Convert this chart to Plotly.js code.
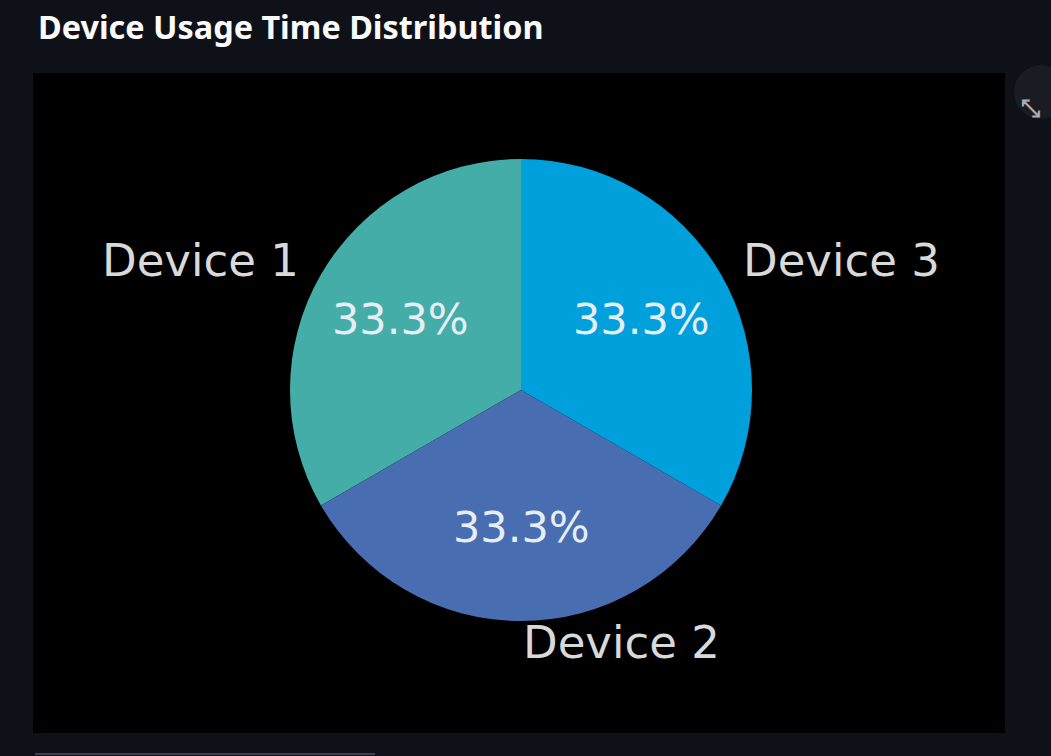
<!DOCTYPE html>
<html>
<head>
<meta charset="utf-8">
<script src="https://cdn.plot.ly/plotly-3.0.1.min.js"></script>
<style>
html,body{margin:0;padding:0;background:#0e1117;}
#chart{width:1051px;height:756px;}
</style>
</head>
<body>
<div id="chart"></div>
<script>
const chartTitle = "Device Usage Time Distribution";
const devices = ["Device 1", "Device 2", "Device 3"];
const usageTime = [1, 1, 1];
const sliceColors = ["#45ada8", "#486db1", "#00a0dd"];

const W = 1051, H = 756;
const cx = 521, cy = 390, r = 231;
const dom = {
  x: [(cx - r) / W, (cx + r) / W],
  y: [(H - cy - r) / H, (H - cy + r) / H]
};

// Pie starting at 12 o'clock, going counterclockwise (like matplotlib startangle=90)
const pieTrace = {
  type: "pie",
  labels: devices,
  values: usageTime,
  sort: false,
  direction: "counterclockwise",
  rotation: -120,
  domain: dom,
  marker: {colors: sliceColors, line: {width: 0}},
  textinfo: "none",
  hoverinfo: "none",
  showlegend: false
};

// Label / percentage placement computed from the data (matplotlib-style:
// labels at 1.1 r, percentages at 0.6 r, along each slice's mid-angle)
const total = usageTime.reduce((a, b) => a + b, 0);
const annotations = [];
const textLift = 2; // px, compensates annotation box padding
let acc = 0;
usageTime.forEach((v, i) => {
  const mid = (90 + 360 * (acc + v / 2) / total) * Math.PI / 180;
  acc += v;
  const c = Math.cos(mid), s = Math.sin(mid);
  const lx = cx + 1.1 * r * c, ly = cy - 1.1 * r * s - textLift;
  const px = cx + 0.6 * r * c, py = cy - 0.6 * r * s - textLift;
  annotations.push({
    text: devices[i], xref: "paper", yref: "paper",
    x: lx / W, y: 1 - ly / H, xanchor: c > -1e-9 ? "left" : "right", yanchor: "middle",
    showarrow: false,
    font: {family: "DejaVu Sans", size: 45, color: "#d9d9d9"}
  });
  annotations.push({
    text: (100 * v / total).toFixed(1) + "%", xref: "paper", yref: "paper",
    x: px / W, y: 1 - py / H, xanchor: "center", yanchor: "middle",
    showarrow: false,
    font: {family: "DejaVu Sans", size: 43, color: "#e6edf5"}
  });
});
annotations.push({
  text: "<b>⤡</b>", xref: "paper", yref: "paper", x: 1042 / W, y: 1 - 92 / H,
  showarrow: false, font: {family: "DejaVu Sans", size: 24, color: "#a8acb5"}
});

const layout = {
  width: W, height: H,
  margin: {l: 0, r: 0, t: 0, b: 0},
  paper_bgcolor: "#0e1117",
  plot_bgcolor: "#0e1117",
  title: {
    text: "<b>" + chartTitle + "</b>",
    x: 38 / W, xanchor: "left", xref: "paper",
    y: 1 - 28 / H, yanchor: "middle", yref: "paper",
    font: {family: "Noto Sans", size: 32.4, color: "#fafafa"}
  },
  shapes: [
    {type: "rect", xref: "paper", yref: "paper", layer: "below",
     x0: 33 / W, x1: 1005 / W, y0: 1 - 733 / H, y1: 1 - 73 / H,
     fillcolor: "#000000", line: {width: 0}},
    {type: "circle", xref: "paper", yref: "paper", layer: "below",
     x0: 1014 / W, x1: 1068 / W, y0: 1 - 119 / H, y1: 1 - 65 / H,
     fillcolor: "#1a1c24", line: {width: 0}},
    {type: "line", xref: "paper", yref: "paper",
     x0: 35 / W, x1: 375 / W, y0: 1 - 754 / H, y1: 1 - 754 / H,
     line: {color: "#3b4050", width: 2}}
  ],
  annotations: annotations
};

Plotly.newPlot("chart", [pieTrace], layout, {displayModeBar: false, staticPlot: true});
</script>
</body>
</html>
